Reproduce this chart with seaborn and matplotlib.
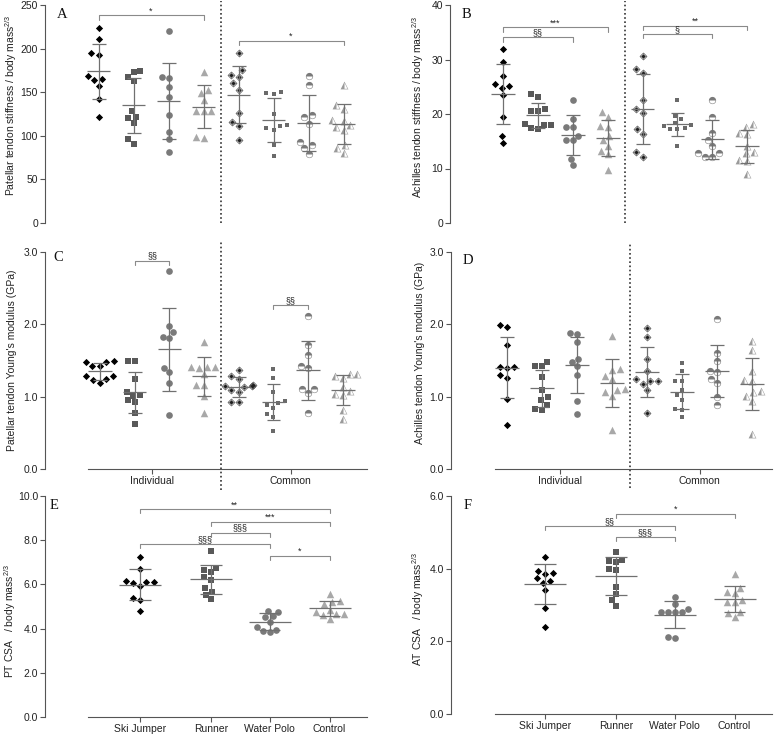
import numpy as np
import seaborn as sns
import matplotlib.pyplot as plt
from matplotlib.textpath import TextPath
from matplotlib.font_manager import FontProperties
from matplotlib.path import Path
from matplotlib.ticker import FormatStrFormatter

sns.set_theme(style="ticks")
plt.rcParams["font.family"] = ["Liberation Sans", "DejaVu Sans"]
plt.rcParams["mathtext.default"] = "regular"

groups = ["Ski Jumper", "Runner", "Water Polo", "Control"]
tendon = ["Individual", "Common"]

# A: patellar tendon stiffness / body mass^2/3
A_individual = [
    [224, 211, 195, 193, 169, 165, 164, 157, 142, 121],
    [174, 173, 167, 163, 128, 122, 120, 115, 96, 91],
    [220, 168, 166, 156, 144, 124, 104, 96, 81],
    [173, 153, 149, 141, 129, 129, 129, 99, 97],
]
A_common = [
    [195, 176, 170, 168, 160, 153, 126, 116, 111, 95],
    [150, 149, 148, 125, 112, 111, 109, 107, 89, 77],
    [169, 158, 124, 121, 114, 93, 89, 86, 79],
    [158, 135, 131, 118, 117, 112, 110, 107, 90, 86, 80],
]
# B: achilles tendon stiffness / body mass^2/3
B_individual = [
    [31.9, 29.5, 26.9, 25.5, 25.2, 24.7, 23.4, 19.5, 16.0, 14.7],
    [23.6, 23.2, 20.9, 20.6, 20.5, 18.1, 18.0, 17.9, 17.5, 17.2],
    [22.6, 19.0, 17.7, 17.7, 16.0, 15.2, 15.2, 11.8, 10.6],
    [20.4, 19.4, 17.8, 17.6, 16.0, 15.2, 14.1, 13.3, 12.6, 9.8],
]
B_common = [
    [30.6, 28.3, 27.5, 22.6, 21.0, 20.1, 17.3, 16.3, 13.1, 12.2],
    [22.5, 19.7, 19.0, 18.4, 18.0, 17.8, 17.5, 17.3, 17.2, 14.2],
    [22.5, 19.5, 16.6, 15.3, 14.2, 12.9, 12.9, 12.2, 12.2],
    [18.2, 17.7, 16.6, 16.3, 14.2, 13.1, 12.8, 11.6, 11.4, 8.9],
]
# C: patellar tendon Young's modulus
C_individual = [
    [1.49, 1.48, 1.48, 1.42, 1.42, 1.28, 1.28, 1.25, 1.23, 1.19],
    [1.50, 1.50, 1.25, 1.06, 1.02, 1.01, 0.95, 0.92, 0.78, 0.62],
    [2.74, 1.98, 1.89, 1.83, 1.81, 1.39, 1.34, 1.19, 0.74],
    [1.75, 1.41, 1.41, 1.41, 1.39, 1.31, 1.16, 1.16, 1.01, 0.78],
]
C_common = [
    [1.37, 1.28, 1.25, 1.16, 1.15, 1.15, 1.14, 1.09, 1.06, 0.92, 0.92],
    [1.38, 1.26, 1.06, 0.94, 0.91, 0.88, 0.84, 0.76, 0.72, 0.52],
    [2.12, 1.71, 1.57, 1.42, 1.39, 1.11, 1.11, 1.05, 0.78],
    [1.31, 1.31, 1.28, 1.26, 1.14, 1.08, 1.03, 1.02, 0.82, 0.69],
]
# D: achilles tendon Young's modulus
D_individual = [
    [1.99, 1.97, 1.72, 1.41, 1.41, 1.39, 1.30, 1.26, 0.97, 0.61],
    [1.48, 1.42, 1.42, 1.27, 1.09, 0.99, 0.95, 0.89, 0.83, 0.82],
    [1.88, 1.87, 1.76, 1.52, 1.48, 1.42, 1.30, 0.94, 0.76],
    [1.84, 1.38, 1.37, 1.28, 1.24, 1.10, 1.09, 1.06, 1.01, 0.54],
]
D_common = [
    [1.95, 1.82, 1.52, 1.35, 1.25, 1.22, 1.22, 1.18, 1.09, 0.78],
    [1.47, 1.35, 1.22, 1.21, 1.09, 1.02, 0.95, 0.83, 0.82, 0.72],
    [2.08, 1.61, 1.49, 1.36, 1.34, 1.25, 1.19, 0.99, 0.88],
    [1.77, 1.64, 1.36, 1.23, 1.21, 1.08, 1.06, 1.01, 0.94, 0.49],
]
# E / F: CSA / body mass^2/3
E_values = [
    [7.26, 6.68, 6.16, 6.12, 6.11, 6.06, 5.93, 5.40, 5.29, 4.80],
    [7.51, 6.73, 6.65, 6.55, 6.32, 6.20, 5.82, 5.67, 5.52, 5.32],
    [4.81, 4.77, 4.58, 4.54, 4.31, 4.06, 3.94, 3.91, 3.83],
    [5.55, 5.25, 5.19, 5.11, 4.86, 4.75, 4.68, 4.66, 4.62, 4.45],
]
F_values = [
    [4.33, 3.94, 3.87, 3.85, 3.73, 3.66, 3.60, 3.41, 2.93, 2.40],
    [4.45, 4.24, 4.21, 4.17, 3.98, 3.95, 3.49, 3.29, 3.14, 2.98],
    [3.21, 3.02, 2.88, 2.82, 2.82, 2.80, 2.80, 2.13, 2.10],
    [3.85, 3.48, 3.37, 3.32, 3.14, 3.07, 3.07, 2.82, 2.79, 2.68],
]

# significance brackets: (from group, to group, height, label)
A_sig = [(0, 3, 238, "*"), (4, 7, 209, "*")]
B_sig = [(0, 3, 35.9, "***"), (0, 2, 34.1, "§§"), (4, 7, 36.2, "**"), (4, 6, 34.7, "§")]
C_sig = [(1, 2, 2.88, "§§"), (5, 6, 2.27, "§§")]
E_sig = [(0, 3, 9.4, "**"), (1, 3, 8.84, "***"), (1, 2, 8.34, "§§§"),
         (0, 2, 7.82, "§§§"), (2, 3, 7.28, "*")]
F_sig = [(1, 3, 5.5, "*"), (0, 2, 5.18, "§§"), (1, 2, 4.86, "§§§")]

ERR = "#707070"
AX = "#555555"


def glyph(ch):
    tp = TextPath((0, 0), ch, size=10, prop=FontProperties(family="DejaVu Sans"))
    ext = tp.get_extents()
    v = tp.vertices - [ext.x0 + ext.width / 2, ext.y0 + ext.height / 2]
    v[tp.codes == Path.CLOSEPOLY] = 0
    return Path(v, tp.codes)


diamond = Path([(0, 1), (1, 0), (0, -1), (-1, 0), (0, 1)],
               [Path.MOVETO, Path.LINETO, Path.LINETO, Path.LINETO, Path.CLOSEPOLY])

ind_style = [(diamond, "#000000", 5.2), ("s", "#595959", 4.8),
             ("o", "#7a7a7a", 4.8), ("^", "#a8a8a8", 5.4)]
com_style = [(glyph("\u25c8"), "#1e1e1e", 5.6), (glyph("\u25a3"), "#6a6a6a", 5.0),
             (glyph("\u25d3"), "#7a7a7a", 5.2), (glyph("\u25ed"), "#9a9a9a", 5.6)]


def rect(l, r, t, b):
    return [l / 775, 1 - b / 737, (r - l) / 775, (b - t) / 737]


def dots(ax, series, xpos, styles, mean_hw, cap_hw):
    for vals, x, (mk, col, sz) in zip(series, xpos, styles):
        sns.swarmplot(x=np.full(len(vals), float(x)), y=vals, native_scale=True,
                      orient="x", marker=mk, color=col, size=sz, linewidth=0, ax=ax)
        m, s = np.mean(vals), np.std(vals, ddof=1)
        ax.hlines(m, x - mean_hw, x + mean_hw, color=ERR, lw=0.9, zorder=4)
        ax.hlines([m - s, m + s], x - cap_hw, x + cap_hw, color=ERR, lw=0.9, zorder=4)
        ax.vlines(x, m - s, m + s, color=ERR, lw=0.9, zorder=4)


def brackets(ax, sig, xpos, drop):
    for i, j, y, txt in sig:
        x0, x1 = xpos[i], xpos[j]
        ax.plot([x0, x0, x1, x1], [y - drop, y, y, y - drop], color="#8a8a8a", lw=0.8)
        ax.text((x0 + x1) / 2, y, txt, ha="center", va="bottom", fontsize=6.5, color="#222222")


def style_axes(ax, ylim, yticks, fmt, ylabel, lab_xy, letter, let_xy, xbounds=None):
    ax.set_ylim(*ylim)
    ax.set_yticks(yticks)
    ax.yaxis.set_major_formatter(FormatStrFormatter(fmt))
    ax.spines[["top", "right"]].set_visible(False)
    for sp in ax.spines.values():
        sp.set_color(AX)
        sp.set_linewidth(0.8)
    ax.tick_params(length=3.5, width=0.8, color=AX, labelsize=7.5, labelcolor="#222222", pad=1.5)
    if xbounds is None:
        ax.spines["bottom"].set_visible(False)
        ax.tick_params(axis="x", bottom=False, labelbottom=False)
    else:
        ax.spines["bottom"].set_bounds(*xbounds)
    ax.set_xlabel("")
    ax.set_ylabel(ylabel, fontsize=7.5, color="#222222")
    ax.yaxis.set_label_coords(*lab_xy)
    ax.text(let_xy[0], let_xy[1], letter, transform=ax.transAxes, ha="left", va="top",
            fontsize=10.5, family="Liberation Serif", color="#111111")


fig = plt.figure(figsize=(7.75, 7.37), dpi=100)
pos8 = np.arange(8)
mass = " / body mass$^{2/3}$"

# top two rows: individual vs common tendon
panels = [
    ("A", rect(45, 370, 5, 223), A_individual, A_common, A_sig, (0, 250), np.arange(0, 251, 50), "%d",
     "Patellar tendon stiffness" + mass, (-0.08, 0.54), (0.037, 0.985), (-1.529, 7.757), None, (0.0, 1.02)),
    ("B", rect(450, 772, 5, 223), B_individual, B_common, B_sig, (0, 40), np.arange(0, 41, 10), "%d",
     "Achilles tendon stiffness" + mass, (-0.075, 0.53), (0.037, 0.985), (-1.519, 7.708), None, (0.0, 1.02)),
    ("C", rect(45, 370, 252, 469), C_individual, C_common, C_sig, (0, 3), [0, 1, 2, 3], "%.1f",
     "Patellar tendon Young's modulus (GPa)", (-0.085, 0.5), (0.025, 1.005), (-1.585, 7.781), (-0.346, 7.695),
     (-0.097, 1.046)),
    ("D", rect(451, 772, 252, 469), D_individual, D_common, [], (0, 3), [0, 1, 2, 3], "%.1f",
     "Achilles tendon Young's modulus (GPa)", (-0.08, 0.535), (0.037, 0.99), (-1.6, 7.571), (-0.343, 7.571),
     (-0.088, 1.04)),
]

for (letter, r, ind, com, sig, ylim, yt, fmt, ylab, labxy, letxy, xlim, xb, vspan) in panels:
    ax = fig.add_axes(r)
    dots(ax, ind + com, pos8, ind_style + com_style, 0.34, 0.2)
    brackets(ax, sig, pos8, 0.02 * ylim[1])
    ax.axvline(3.5, ymin=vspan[0], ymax=vspan[1], color="#333333", lw=1.2,
               ls=(0, (1, 1.5)), clip_on=False)
    ax.set_xlim(*xlim)
    style_axes(ax, ylim, yt, fmt, ylab, labxy, letter, letxy, xb)
    if xb is not None:
        ax.set_xticks([1.5, 5.5])
        ax.set_xticklabels(tendon)

# bottom row: CSA per sport
xs = [0, 1.18, 2.16, 3.16]
bottom = [
    ("E", rect(45, 370, 496, 717), E_values, E_sig, (0, 10), np.arange(0, 10.1, 2),
     "PT CSA  " + mass, (-0.082, 0.434), (0.015, 0.985), (-1.583, 3.833), (-0.867, 3.783)),
    ("F", rect(451, 772, 496, 714), F_values, F_sig, (0, 6), np.arange(0, 6.1, 2),
     "AT CSA  " + mass, (-0.078, 0.48), (0.04, 0.985), (-1.567, 3.783), (-0.833, 3.783)),
]
for (letter, r, vals, sig, ylim, yt, ylab, labxy, letxy, xlim, xb) in bottom:
    ax = fig.add_axes(r)
    dots(ax, vals, xs, ind_style, 0.35, 0.18)
    brackets(ax, sig, xs, 0.018 * ylim[1])
    ax.set_xlim(*xlim)
    style_axes(ax, ylim, yt, "%.1f", ylab, labxy, letter, letxy, xb)
    ax.set_xticks(xs)
    ax.set_xticklabels(groups)

fig.savefig("out.png", dpi=100)
